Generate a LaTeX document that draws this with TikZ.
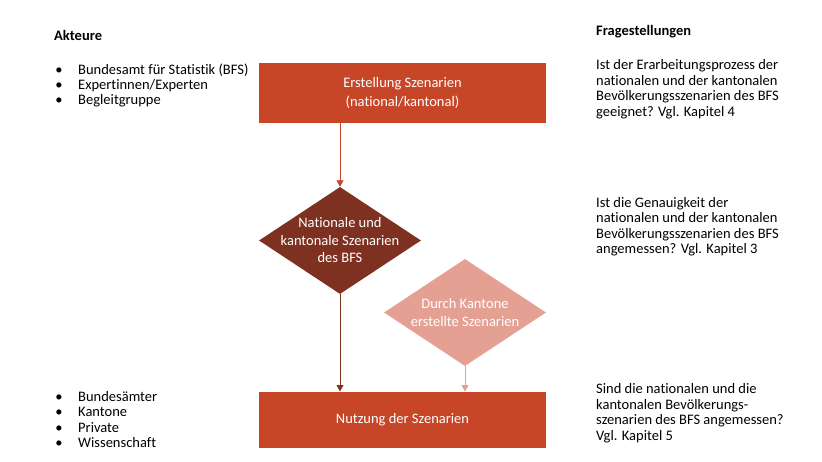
\documentclass[tikz,border=0pt]{standalone}
\usepackage{fontspec}
\setmainfont{Carlito}[Ligatures=NoCommon]
\usetikzlibrary{shapes.geometric,arrows.meta}

\definecolor{rostrot}{HTML}{C84628}
\definecolor{braun}{HTML}{7E3121}
\definecolor{lachs}{HTML}{E4A193}

\begin{document}
\begin{tikzpicture}[
		x=1pt, y=1pt,
		every node/.style={font=\fontsize{14.5}{15.5}\selectfont, inner sep=0pt},
		base/.style={fill=rostrot, minimum width=287pt, text=white, align=center, font=\fontsize{14.5}{18.5}\selectfont},
		raute/.style={diamond, minimum width=162pt, minimum height=107pt},
		inhalt/.style={text=white, align=center, font=\fontsize{14.5}{17.5}\selectfont},
		link/.style={-{Triangle[width=7pt,length=6.5pt]}, line width=0.9pt}
	]

	\useasboundingbox (0,0) rectangle (822,-462);

	\node[base, minimum height=59.7pt] at (402.5,-92.8) (erstellung) {Erstellung Szenarien\\(national/kantonal)};
	\node[base, minimum height=56pt] at (402.5,-419.7) (nutzung) {Nutzung der Szenarien};

	\node[raute, fill=braun, label={[inhalt]center:Nationale und\\kantonale Szenarien\\des BFS}] at (340,-240.5) (bfs) {};
	\node[raute, fill=lachs, label={[inhalt]center:Durch Kantone\\erstellte Szenarien}] at (465,-312.5) (kantone) {};

	\draw[link, rostrot] (erstellung.south -| bfs.north) -- (bfs.north);
	\draw[link, braun] (bfs.south) -- (bfs.south |- nutzung.north);
	\draw[link, lachs] (kantone.south) -- (kantone.south |- nutzung.north);

	% Akteure links
	\node[anchor=base west, font=\fontsize{14.5}{15.5}\selectfont\bfseries] at (54,-41) (akteure) {Akteure};
	\foreach \txt [count=\i] in {Bundesamt für Statistik (BFS), Expertinnen/Experten, Begleitgruppe}{
		\node[anchor=base west] at (78, {-75-15*(\i-1)}) (akt-\i) {\txt};
		\node[anchor=base] at (59, {-75-15*(\i-1)}) (aktpunkt-\i) {\textbullet};
	}
	\foreach \txt [count=\i] in {Bundesämter, Kantone, Private, Wissenschaft}{
		\node[anchor=base west] at (78, {-401-15.5*(\i-1)}) (nutzer-\i) {\txt};
		\node[anchor=base] at (59, {-401-15.5*(\i-1)}) (nutzerpunkt-\i) {\textbullet};
	}

	% Fragestellungen rechts
	\node[anchor=base west, font=\fontsize{14.5}{15.5}\selectfont\bfseries] at (596,-35.5) (fragen) {Fragestellungen};
	\foreach \txt [count=\i] in {Ist der Erarbeitungsprozess der, nationalen und der kantonalen, Bevölkerungsszenarien des BFS, geeignet? Vgl. Kapitel 4}
		\node[anchor=base west] at (596, {-70-15.5*(\i-1)}) (frage-a\i) {\txt};
	\foreach \txt [count=\i] in {Ist die Genauigkeit der, nationalen und der kantonalen, Bevölkerungsszenarien des BFS, angemessen? Vgl. Kapitel 3}
		\node[anchor=base west] at (596, {-207.5-15.5*(\i-1)}) (frage-b\i) {\txt};
	\foreach \txt [count=\i] in {Sind die nationalen und die, kantonalen Bevölkerungs-, szenarien des BFS angemessen?, Vgl. Kapitel 5}
		\node[anchor=base west] at (596, {-393.5-15.5*(\i-1)}) (frage-c\i) {\txt};

\end{tikzpicture}
\end{document}
